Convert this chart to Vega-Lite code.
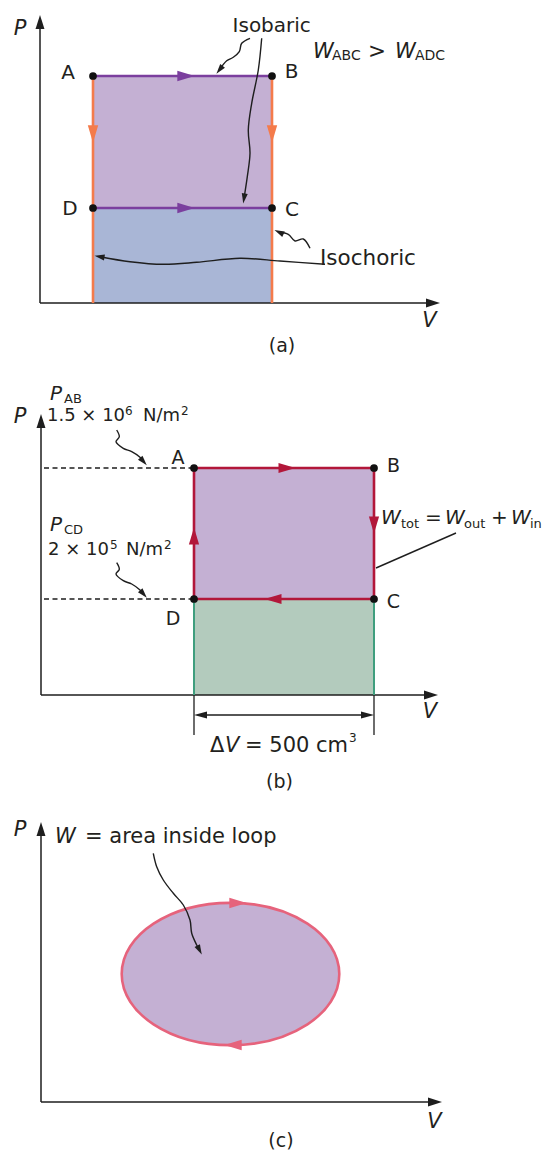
{
  "$schema": "https://vega.github.io/schema/vega-lite/v6.json",
  "padding": 0,
  "autosize": {"type": "pad"},
  "bounds": "flush",
  "spacing": 0,
  "background": "white",
  "config": {"view": {"stroke": null}, "text": {"font": "DejaVu Sans", "color": "#231f20"}, "concat": {"spacing": 0}},
  "resolve": {"scale": {"x": "independent", "y": "independent", "color": "independent"}},
  "datasets": {
    "a_axes": [{"v": 0, "p": 0, "v2": 0, "p2": 281}, {"v": 0, "p": 0, "v2": 393, "p2": 0}],
    "a_heads": [{"v": 0, "p": 281, "dir": 0}, {"v": 393, "p": 0, "dir": 90}],
    "a_regions": [{"region": "upper", "v": 53, "v2": 232, "p": 95, "p2": 227}, {"region": "lower", "v": 53, "v2": 232, "p": 0, "p2": 95}],
    "a_edges": [
      {"process": "isochoric", "v": 53, "p": 0, "v2": 53, "p2": 227},
      {"process": "isochoric", "v": 232, "p": 0, "v2": 232, "p2": 227},
      {"process": "isobaric", "v": 53, "p": 227, "v2": 232, "p2": 227},
      {"process": "isobaric", "v": 53, "p": 95, "v2": 232, "p2": 95}
    ],
    "a_flow": [
      {"process": "isobaric", "v": 146, "p": 227, "dir": 90},
      {"process": "isobaric", "v": 146, "p": 95, "dir": 90},
      {"process": "isochoric", "v": 53, "p": 169, "dir": 180},
      {"process": "isochoric", "v": 232, "p": 169, "dir": 180}
    ],
    "a_states": [{"state": "A", "v": 53, "p": 227}, {"state": "B", "v": 232, "p": 227}, {"state": "C", "v": 232, "p": 95}, {"state": "D", "v": 53, "p": 95}],
    "a_curves": [
      {"curve": 1, "i": 0, "v": 210, "p": 264.7}, {"curve": 1, "i": 1, "v": 201.7, "p": 259.7}, {"curve": 1, "i": 2, "v": 199.3, "p": 251.3}, {"curve": 1, "i": 3, "v": 193.3, "p": 245.7}, {"curve": 1, "i": 4, "v": 186.7, "p": 242.3}, {"curve": 1, "i": 5, "v": 179.5, "p": 233.2},
      {"curve": 2, "i": 0, "v": 221.7, "p": 264.7}, {"curve": 2, "i": 1, "v": 218.3, "p": 233}, {"curve": 2, "i": 2, "v": 211.7, "p": 199.7}, {"curve": 2, "i": 3, "v": 208.3, "p": 173}, {"curve": 2, "i": 4, "v": 210, "p": 149.7}, {"curve": 2, "i": 5, "v": 207.3, "p": 126.3}, {"curve": 2, "i": 6, "v": 204, "p": 104.5},
      {"curve": 3, "i": 0, "v": 285, "p": 38.7}, {"curve": 3, "i": 1, "v": 240, "p": 42}, {"curve": 3, "i": 2, "v": 200, "p": 44.7}, {"curve": 3, "i": 3, "v": 156.7, "p": 40.7}, {"curve": 3, "i": 4, "v": 123.3, "p": 38.7}, {"curve": 3, "i": 5, "v": 90, "p": 41.3}, {"curve": 3, "i": 6, "v": 60, "p": 46.3},
      {"curve": 4, "i": 0, "v": 270, "p": 54.7}, {"curve": 4, "i": 1, "v": 263.3, "p": 64}, {"curve": 4, "i": 2, "v": 255, "p": 62}, {"curve": 4, "i": 3, "v": 248.3, "p": 68.7}, {"curve": 4, "i": 4, "v": 239, "p": 70.8}
    ],
    "a_curve_heads": [{"v": 179.5, "p": 233.2, "dir": 218}, {"v": 204, "p": 104.5, "dir": 189}, {"v": 59.5, "p": 46.3, "dir": 280}, {"v": 239, "p": 70.8, "dir": 295}],
    "a_labels": [{"t": "A", "v": 28, "p": 223.7}, {"t": "B", "v": 251.7, "p": 224.7}, {"t": "C", "v": 252, "p": 87}, {"t": "D", "v": 30, "p": 88}, {"t": "Isobaric", "v": 231.7, "p": 271.3}],
    "a_text_left": [{"t": "Isochoric", "v": 280, "p": 38}, {"t": ">", "v": 328, "p": 245}],
    "a_italic_left": [{"t": "W", "v": 273, "p": 245}, {"t": "W", "v": 355, "p": 245}],
    "a_sub": [{"t": "ABC", "v": 292, "p": 243}, {"t": "ADC", "v": 375, "p": 243}],
    "a_axis_labels": [{"t": "P", "v": -20, "p": 274}, {"t": "V", "v": 389.5, "p": -17.5}],
    "a_caption": [{"t": "(a)", "v": 242, "p": -43}],

    "b_axes": [{"v": 1, "p": 0, "v2": 1, "p2": 274}, {"v": 1, "p": 0, "v2": 391, "p2": 0}],
    "b_heads": [{"v": 1, "p": 274, "dir": 0}, {"v": 391, "p": 0, "dir": 90}],
    "b_regions": [{"region": "loop", "v": 154, "v2": 334, "p": 96, "p2": 227}, {"region": "under", "v": 154, "v2": 334, "p": 0, "p2": 96}],
    "b_under_edges": [{"v": 154, "p": 0, "v2": 154, "p2": 96}, {"v": 334, "p": 0, "v2": 334, "p2": 96}],
    "b_cycle": [
      {"leg": "AB", "v": 154, "p": 227, "v2": 334, "p2": 227},
      {"leg": "BC", "v": 334, "p": 227, "v2": 334, "p2": 96},
      {"leg": "CD", "v": 334, "p": 96, "v2": 154, "p2": 96},
      {"leg": "DA", "v": 154, "p": 96, "v2": 154, "p2": 227}
    ],
    "b_flow": [{"leg": "AB", "v": 247, "p": 227, "dir": 90}, {"leg": "BC", "v": 334, "p": 170, "dir": 180}, {"leg": "CD", "v": 233, "p": 96, "dir": 270}, {"leg": "DA", "v": 154, "p": 159, "dir": 0}],
    "b_states": [{"state": "A", "v": 154, "p": 227}, {"state": "B", "v": 334, "p": 227}, {"state": "C", "v": 334, "p": 96}, {"state": "D", "v": 154, "p": 96}],
    "b_dashed": [{"level": "PAB", "v": 4, "p": 227, "v2": 154, "p2": 227}, {"level": "PCD", "v": 4, "p": 96, "v2": 154, "p2": 96}],
    "b_dim": [{"v": 154, "p": 0, "v2": 154, "p2": -40}, {"v": 334, "p": 0, "v2": 334, "p2": -40}, {"v": 160, "p": -20, "v2": 328, "p2": -20}],
    "b_dim_heads": [{"v": 160.5, "p": -20, "dir": 270}, {"v": 327.5, "p": -20, "dir": 90}],
    "b_curves": [
      {"curve": 1, "i": 0, "v": 76.7, "p": 265}, {"curve": 1, "i": 1, "v": 79.3, "p": 258.3}, {"curve": 1, "i": 2, "v": 76, "p": 253.3}, {"curve": 1, "i": 3, "v": 83.3, "p": 246.7}, {"curve": 1, "i": 4, "v": 91.7, "p": 243.3}, {"curve": 1, "i": 5, "v": 100, "p": 237.7}, {"curve": 1, "i": 6, "v": 103.5, "p": 233.5},
      {"curve": 2, "i": 0, "v": 76.7, "p": 132.3}, {"curve": 2, "i": 1, "v": 79.3, "p": 125.7}, {"curve": 2, "i": 2, "v": 76, "p": 121}, {"curve": 2, "i": 3, "v": 83.3, "p": 114.3}, {"curve": 2, "i": 4, "v": 91.7, "p": 111}, {"curve": 2, "i": 5, "v": 100, "p": 105}, {"curve": 2, "i": 6, "v": 103.5, "p": 101},
      {"curve": 3, "i": 0, "v": 416, "p": 162}, {"curve": 3, "i": 1, "v": 336, "p": 127}
    ],
    "b_curve_heads": [{"v": 103.5, "p": 233.5, "dir": 139}, {"v": 103.5, "p": 101, "dir": 139}],
    "b_labels": [{"t": "A", "v": 138, "p": 231}, {"t": "B", "v": 353.5, "p": 223.3}, {"t": "C", "v": 353.5, "p": 86.7}, {"t": "D", "v": 133, "p": 70}],
    "b_text18": [{"t": "1.5 × 10", "v": 7, "p": 274}, {"t": "N/m", "v": 103, "p": 274}, {"t": "2 × 10", "v": 8, "p": 140}, {"t": "N/m", "v": 86, "p": 140}],
    "b_sup": [{"t": "6", "v": 85, "p": 280}, {"t": "2", "v": 141, "p": 280}, {"t": "5", "v": 70, "p": 146}, {"t": "2", "v": 124, "p": 146}, {"t": "3", "v": 309, "p": -47}],
    "b_italic_left": [{"t": "P", "v": 10, "p": 295}, {"t": "P", "v": 10, "p": 164}, {"t": "W", "v": 341, "p": 171}, {"t": "W", "v": 405, "p": 171}, {"t": "W", "v": 471, "p": 171}],
    "b_sub": [{"t": "AB", "v": 24, "p": 292}, {"t": "CD", "v": 24, "p": 161}, {"t": "tot", "v": 361, "p": 167}, {"t": "out", "v": 424, "p": 167}, {"t": "in", "v": 490, "p": 167}],
    "b_text20": [{"t": "=", "v": 385, "p": 171}, {"t": "+", "v": 451, "p": 171}],
    "b_dv_italic": [{"t": "V", "v": 185, "p": -57}],
    "b_dv_text": [{"t": "Δ", "v": 170, "p": -57}, {"t": "= 500 cm", "v": 205, "p": -57}],
    "b_axis_labels": [{"t": "P", "v": -20, "p": 278.5}, {"t": "V", "v": 390, "p": -17}],
    "b_caption": [{"t": "(b)", "v": 239.5, "p": -87}],

    "c_axes": [{"v": 1, "p": 0, "v2": 1, "p2": 273}, {"v": 1, "p": 0, "v2": 395, "p2": 0}],
    "c_heads": [{"v": 1, "p": 273, "dir": 0}, {"v": 395, "p": 0, "dir": 90}],
    "c_loop": [{"v": 190.5, "p": 128}],
    "c_flow": [{"v": 198, "p": 199, "dir": 90}, {"v": 193, "p": 57, "dir": 270}],
    "c_curves": [
      {"curve": 1, "i": 0, "v": 113.3, "p": 248.7}, {"curve": 1, "i": 1, "v": 116.7, "p": 235.3}, {"curve": 1, "i": 2, "v": 123.3, "p": 222}, {"curve": 1, "i": 3, "v": 133.3, "p": 208.7}, {"curve": 1, "i": 4, "v": 143.3, "p": 197}, {"curve": 1, "i": 5, "v": 150, "p": 182}, {"curve": 1, "i": 6, "v": 151.7, "p": 168.7}, {"curve": 1, "i": 7, "v": 156.7, "p": 157}, {"curve": 1, "i": 8, "v": 159.5, "p": 152}
    ],
    "c_curve_heads": [{"v": 159.5, "p": 152, "dir": 153}],
    "c_italic_left": [{"t": "W", "v": 15, "p": 259}],
    "c_text_left": [{"t": "= area inside loop", "v": 45, "p": 259}],
    "c_axis_labels": [{"t": "P", "v": -20, "p": 272}, {"t": "V", "v": 394.5, "p": -19.5}],
    "c_caption": [{"t": "(c)", "v": 241, "p": -39}]
  },
  "vconcat": [
    {
      "width": 553, "height": 362,
      "resolve": {"scale": {"color": "independent"}},
      "encoding": {
        "x": {"field": "v", "type": "quantitative", "scale": {"domain": [-40, 513], "nice": false, "zero": false}, "axis": null},
        "y": {"field": "p", "type": "quantitative", "scale": {"domain": [-59, 303], "nice": false, "zero": false}, "axis": null}
      },
      "layer": [
        {"data": {"name": "a_regions"}, "mark": {"type": "rect"}, "encoding": {"x2": {"field": "v2"}, "y2": {"field": "p2"}, "color": {"field": "region", "type": "nominal", "scale": {"domain": ["upper", "lower"], "range": ["#C4B0D3", "#A9B6D6"]}, "legend": null}}},
        {"data": {"name": "a_axes"}, "mark": {"type": "rule", "strokeWidth": 1.5, "color": "#1e1e1e"}, "encoding": {"x2": {"field": "v2"}, "y2": {"field": "p2"}}},
        {"data": {"name": "a_heads"}, "mark": {"type": "point", "shape": "M0,-1L0.64,1L-0.64,1Z", "size": 196, "filled": true, "color": "#1e1e1e", "opacity": 1}, "encoding": {"angle": {"field": "dir", "type": "quantitative", "scale": null}}},
        {"data": {"name": "a_edges"}, "mark": {"type": "rule", "strokeWidth": 2.6}, "encoding": {"x2": {"field": "v2"}, "y2": {"field": "p2"}, "color": {"field": "process", "type": "nominal", "scale": {"domain": ["isobaric", "isochoric"], "range": ["#7B3F9E", "#F47B4B"]}, "legend": null}}},
        {"data": {"name": "a_flow"}, "mark": {"type": "point", "shape": "M0,-1L0.6,1L-0.6,1Z", "size": 300, "filled": true, "opacity": 1}, "encoding": {"angle": {"field": "dir", "type": "quantitative", "scale": null}, "color": {"field": "process", "type": "nominal", "scale": {"domain": ["isobaric", "isochoric"], "range": ["#7B3F9E", "#F47B4B"]}, "legend": null}}},
        {"data": {"name": "a_states"}, "mark": {"type": "circle", "size": 60, "color": "#111111", "opacity": 1}},
        {"data": {"name": "a_curves"}, "mark": {"type": "line", "interpolate": "catmull-rom", "strokeWidth": 1.4, "color": "#1e1e1e"}, "encoding": {"detail": {"field": "curve", "type": "nominal"}, "order": {"field": "i", "type": "quantitative"}}},
        {"data": {"name": "a_curve_heads"}, "mark": {"type": "point", "shape": "M0,-1L0.6,1L-0.6,1Z", "size": 100, "filled": true, "color": "#1e1e1e", "opacity": 1}, "encoding": {"angle": {"field": "dir", "type": "quantitative", "scale": null}}},
        {"data": {"name": "a_labels"}, "mark": {"type": "text", "fontSize": 20, "align": "center", "baseline": "alphabetic"}, "encoding": {"text": {"field": "t", "type": "nominal"}}},
        {"data": {"name": "a_text_left"}, "mark": {"type": "text", "fontSize": 21.5, "align": "left", "baseline": "alphabetic"}, "encoding": {"text": {"field": "t", "type": "nominal"}}},
        {"data": {"name": "a_italic_left"}, "mark": {"type": "text", "fontSize": 21, "fontStyle": "italic", "align": "left", "baseline": "alphabetic"}, "encoding": {"text": {"field": "t", "type": "nominal"}}},
        {"data": {"name": "a_sub"}, "mark": {"type": "text", "fontSize": 14, "align": "left", "baseline": "alphabetic"}, "encoding": {"text": {"field": "t", "type": "nominal"}}},
        {"data": {"name": "a_axis_labels"}, "mark": {"type": "text", "fontSize": 21, "fontStyle": "italic", "align": "center", "baseline": "middle"}, "encoding": {"text": {"field": "t", "type": "nominal"}}},
        {"data": {"name": "a_caption"}, "mark": {"type": "text", "fontSize": 19, "align": "center", "baseline": "middle"}, "encoding": {"text": {"field": "t", "type": "nominal"}}}
      ]
    },
    {
      "width": 553, "height": 433,
      "resolve": {"scale": {"color": "independent"}},
      "encoding": {
        "x": {"field": "v", "type": "quantitative", "scale": {"domain": [-40, 513], "nice": false, "zero": false}, "axis": null},
        "y": {"field": "p", "type": "quantitative", "scale": {"domain": [-100, 333], "nice": false, "zero": false}, "axis": null}
      },
      "layer": [
        {"data": {"name": "b_regions"}, "mark": {"type": "rect"}, "encoding": {"x2": {"field": "v2"}, "y2": {"field": "p2"}, "color": {"field": "region", "type": "nominal", "scale": {"domain": ["loop", "under"], "range": ["#C4B0D3", "#B3CBBD"]}, "legend": null}}},
        {"data": {"name": "b_axes"}, "mark": {"type": "rule", "strokeWidth": 1.5, "color": "#1e1e1e"}, "encoding": {"x2": {"field": "v2"}, "y2": {"field": "p2"}}},
        {"data": {"name": "b_heads"}, "mark": {"type": "point", "shape": "M0,-1L0.64,1L-0.64,1Z", "size": 196, "filled": true, "color": "#1e1e1e", "opacity": 1}, "encoding": {"angle": {"field": "dir", "type": "quantitative", "scale": null}}},
        {"data": {"name": "b_dashed"}, "mark": {"type": "rule", "strokeWidth": 1.5, "strokeDash": [5, 3.5], "color": "#1e1e1e"}, "encoding": {"x2": {"field": "v2"}, "y2": {"field": "p2"}}},
        {"data": {"name": "b_dim"}, "mark": {"type": "rule", "strokeWidth": 1.3, "color": "#1e1e1e"}, "encoding": {"x2": {"field": "v2"}, "y2": {"field": "p2"}}},
        {"data": {"name": "b_dim_heads"}, "mark": {"type": "point", "shape": "M0,-1L0.55,1L-0.55,1Z", "size": 169, "filled": true, "color": "#1e1e1e", "opacity": 1}, "encoding": {"angle": {"field": "dir", "type": "quantitative", "scale": null}}},
        {"data": {"name": "b_under_edges"}, "mark": {"type": "rule", "strokeWidth": 2, "color": "#3F9E7E"}, "encoding": {"x2": {"field": "v2"}, "y2": {"field": "p2"}}},
        {"data": {"name": "b_cycle"}, "mark": {"type": "rule", "strokeWidth": 2.6, "color": "#B2173A"}, "encoding": {"x2": {"field": "v2"}, "y2": {"field": "p2"}}},
        {"data": {"name": "b_flow"}, "mark": {"type": "point", "shape": "M0,-1L0.6,1L-0.6,1Z", "size": 289, "filled": true, "color": "#B2173A", "opacity": 1}, "encoding": {"angle": {"field": "dir", "type": "quantitative", "scale": null}}},
        {"data": {"name": "b_states"}, "mark": {"type": "circle", "size": 60, "color": "#111111", "opacity": 1}},
        {"data": {"name": "b_curves"}, "mark": {"type": "line", "interpolate": "catmull-rom", "strokeWidth": 1.4, "color": "#1e1e1e"}, "encoding": {"detail": {"field": "curve", "type": "nominal"}, "order": {"field": "i", "type": "quantitative"}}},
        {"data": {"name": "b_curve_heads"}, "mark": {"type": "point", "shape": "M0,-1L0.6,1L-0.6,1Z", "size": 100, "filled": true, "color": "#1e1e1e", "opacity": 1}, "encoding": {"angle": {"field": "dir", "type": "quantitative", "scale": null}}},
        {"data": {"name": "b_labels"}, "mark": {"type": "text", "fontSize": 19, "align": "center", "baseline": "alphabetic"}, "encoding": {"text": {"field": "t", "type": "nominal"}}},
        {"data": {"name": "b_text18"}, "mark": {"type": "text", "fontSize": 18, "align": "left", "baseline": "alphabetic"}, "encoding": {"text": {"field": "t", "type": "nominal"}}},
        {"data": {"name": "b_sup"}, "mark": {"type": "text", "fontSize": 12, "align": "left", "baseline": "alphabetic"}, "encoding": {"text": {"field": "t", "type": "nominal"}}},
        {"data": {"name": "b_italic_left"}, "mark": {"type": "text", "fontSize": 20, "fontStyle": "italic", "align": "left", "baseline": "alphabetic"}, "encoding": {"text": {"field": "t", "type": "nominal"}}},
        {"data": {"name": "b_sub"}, "mark": {"type": "text", "fontSize": 13, "align": "left", "baseline": "alphabetic"}, "encoding": {"text": {"field": "t", "type": "nominal"}}},
        {"data": {"name": "b_text20"}, "mark": {"type": "text", "fontSize": 20, "align": "left", "baseline": "alphabetic"}, "encoding": {"text": {"field": "t", "type": "nominal"}}},
        {"data": {"name": "b_dv_italic"}, "mark": {"type": "text", "fontSize": 21, "fontStyle": "italic", "align": "left", "baseline": "alphabetic"}, "encoding": {"text": {"field": "t", "type": "nominal"}}},
        {"data": {"name": "b_dv_text"}, "mark": {"type": "text", "fontSize": 21, "align": "left", "baseline": "alphabetic"}, "encoding": {"text": {"field": "t", "type": "nominal"}}},
        {"data": {"name": "b_axis_labels"}, "mark": {"type": "text", "fontSize": 21, "fontStyle": "italic", "align": "center", "baseline": "middle"}, "encoding": {"text": {"field": "t", "type": "nominal"}}},
        {"data": {"name": "b_caption"}, "mark": {"type": "text", "fontSize": 19, "align": "center", "baseline": "middle"}, "encoding": {"text": {"field": "t", "type": "nominal"}}}
      ]
    },
    {
      "width": 553, "height": 356,
      "resolve": {"scale": {"color": "independent"}},
      "encoding": {
        "x": {"field": "v", "type": "quantitative", "scale": {"domain": [-40, 513], "nice": false, "zero": false}, "axis": null},
        "y": {"field": "p", "type": "quantitative", "scale": {"domain": [-49, 307], "nice": false, "zero": false}, "axis": null}
      },
      "layer": [
        {"data": {"name": "c_axes"}, "mark": {"type": "rule", "strokeWidth": 1.5, "color": "#1e1e1e"}, "encoding": {"x2": {"field": "v2"}, "y2": {"field": "p2"}}},
        {"data": {"name": "c_heads"}, "mark": {"type": "point", "shape": "M0,-1L0.64,1L-0.64,1Z", "size": 196, "filled": true, "color": "#1e1e1e", "opacity": 1}, "encoding": {"angle": {"field": "dir", "type": "quantitative", "scale": null}}},
        {"data": {"name": "c_loop"}, "mark": {"type": "point", "shape": "M-1,0C-1,-0.3612,-0.5523,-0.654,0,-0.654C0.5523,-0.654,1,-0.3612,1,0C1,0.3612,0.5523,0.654,0,0.654C-0.5523,0.654,-1,0.3612,-1,0Z", "size": 47350, "filled": true, "fill": "#C4B0D3", "stroke": "#E6637C", "strokeWidth": 2.6, "opacity": 1, "fillOpacity": 1, "strokeOpacity": 1}},
        {"data": {"name": "c_flow"}, "mark": {"type": "point", "shape": "M0,-1L0.6,1L-0.6,1Z", "size": 300, "filled": true, "color": "#E6637C", "opacity": 1}, "encoding": {"angle": {"field": "dir", "type": "quantitative", "scale": null}}},
        {"data": {"name": "c_curves"}, "mark": {"type": "line", "interpolate": "catmull-rom", "strokeWidth": 1.4, "color": "#1e1e1e"}, "encoding": {"detail": {"field": "curve", "type": "nominal"}, "order": {"field": "i", "type": "quantitative"}}},
        {"data": {"name": "c_curve_heads"}, "mark": {"type": "point", "shape": "M0,-1L0.6,1L-0.6,1Z", "size": 100, "filled": true, "color": "#1e1e1e", "opacity": 1}, "encoding": {"angle": {"field": "dir", "type": "quantitative", "scale": null}}},
        {"data": {"name": "c_italic_left"}, "mark": {"type": "text", "fontSize": 21, "fontStyle": "italic", "align": "left", "baseline": "alphabetic"}, "encoding": {"text": {"field": "t", "type": "nominal"}}},
        {"data": {"name": "c_text_left"}, "mark": {"type": "text", "fontSize": 21, "align": "left", "baseline": "alphabetic"}, "encoding": {"text": {"field": "t", "type": "nominal"}}},
        {"data": {"name": "c_axis_labels"}, "mark": {"type": "text", "fontSize": 21, "fontStyle": "italic", "align": "center", "baseline": "middle"}, "encoding": {"text": {"field": "t", "type": "nominal"}}},
        {"data": {"name": "c_caption"}, "mark": {"type": "text", "fontSize": 19, "align": "center", "baseline": "middle"}, "encoding": {"text": {"field": "t", "type": "nominal"}}}
      ]
    }
  ]
}
